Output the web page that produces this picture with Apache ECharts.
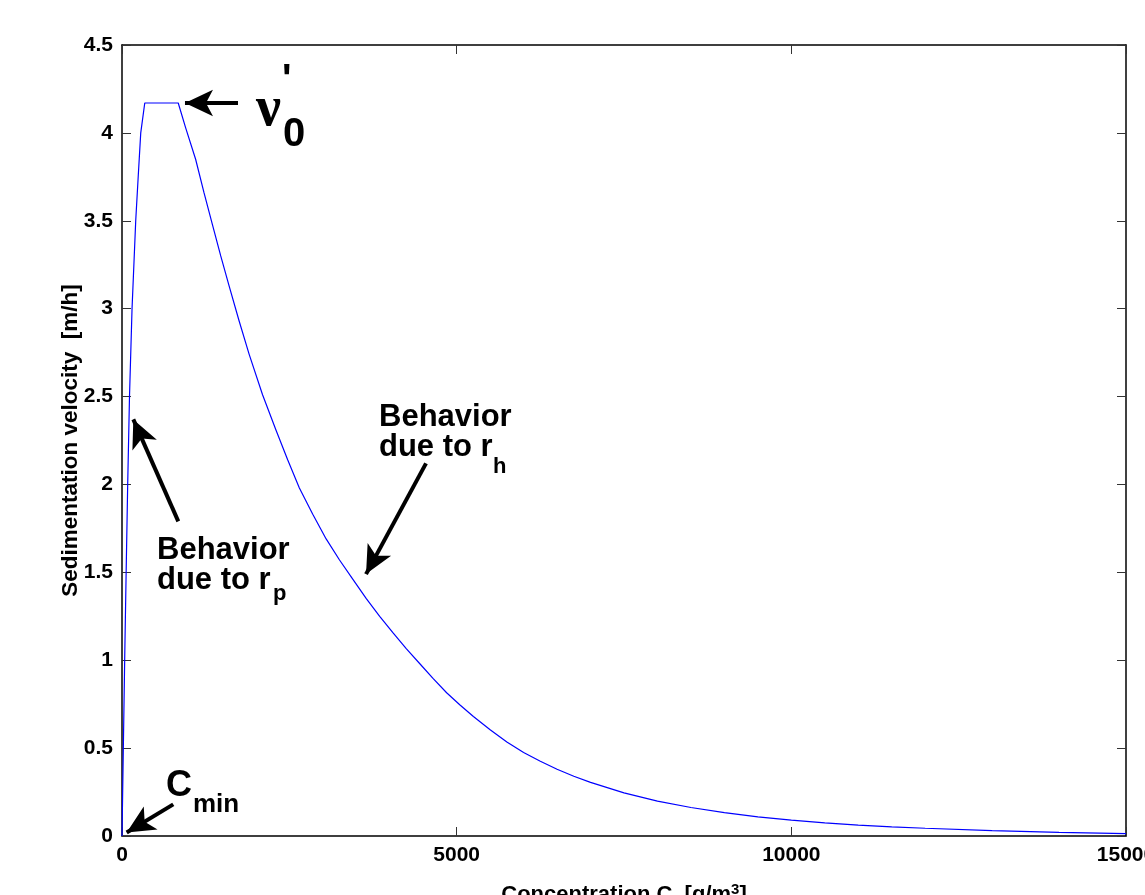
<!DOCTYPE html>
<html>
<head>
<meta charset="utf-8">
<script src="https://cdn.jsdelivr.net/npm/echarts@6/dist/echarts.min.js"></script>
<style>
  html, body { margin: 0; padding: 0; background: #fff; }
  #chart { width: 1145px; height: 895px; }
</style>
</head>
<body>
<div id="chart"></div>
<script>
// concentration C [g/m3]
const concentration = [
  0, 20, 40, 62, 85, 112, 150, 205, 245, 280, 340,
  840, 950, 1100, 1225, 1350, 1475, 1600, 1750, 1900, 2100,
  2300, 2475, 2650, 2850, 3050, 3250, 3450, 3650, 3850, 4050,
  4250, 4450, 4650, 4850, 5050, 5250, 5500, 5750, 6000, 6250, 6500,
  6750, 7000, 7500, 8000, 8500, 9000, 9500, 10000, 10500, 11000,
  11500, 12000, 13000, 14000, 15000
];
// sedimentation velocity [m/h]
const velocity = [
  0, 0.5, 1.0, 1.5, 2.0, 2.5, 3.0, 3.5, 3.77, 4.0, 4.17,
  4.17, 4.03, 3.85, 3.66, 3.48, 3.30, 3.13, 2.93, 2.74, 2.51,
  2.31, 2.14, 1.98, 1.83, 1.69, 1.57, 1.46, 1.35, 1.25, 1.155,
  1.065, 0.98, 0.895, 0.815, 0.745, 0.68, 0.605, 0.535, 0.475, 0.425, 0.38,
  0.34, 0.305, 0.245, 0.198, 0.162, 0.133, 0.109, 0.090, 0.075, 0.062,
  0.052, 0.044, 0.031, 0.021, 0.013
];

const xTicks = [0, 15000, 5000];   // min, max, interval
const yTicks = [0, 4.5, 0.5];

// arrows: [tailC, tailV, tipC, tipV]
const arrows = [
  [1733, 4.17, 941, 4.17],   // v0'
  [841, 1.79, 169, 2.37],    // r_p
  [4542, 2.12, 3646, 1.49],  // r_h
  [766, 0.18, 70, 0.02]      // C_min
];

const curve = concentration.map((c, i) => [c, velocity[i]]);

const FONT = '"Liberation Sans", Arial, Helvetica, sans-serif';

const chart = echarts.init(document.getElementById('chart'), null, { renderer: 'canvas' });

function axisBase(show) {
  return {
    axisLine: { show: true, onZero: false, lineStyle: { color: '#000', width: 1.5 } },
    axisTick: { show: true, inside: true, length: 9, lineStyle: { color: '#333', width: 1 } },
    axisLabel: show ? {
      show: true,
      color: '#000',
      fontFamily: FONT,
      fontWeight: 'bold',
      fontSize: 21,
      margin: 9,
      formatter: v => String(v)
    } : { show: false },
    splitLine: { show: false }
  };
}

const option = {
  animation: false,
  backgroundColor: '#fff',
  grid: { left: 122, right: 19, top: 45, bottom: 59, containLabel: false, outerBoundsMode: 'none' },
  xAxis: [
    Object.assign(axisBase(true), {
      type: 'value', position: 'bottom',
      min: xTicks[0], max: xTicks[1], interval: xTicks[2],
      name: 'Concentration C  [g/m{s|3}]',
      nameLocation: 'middle',
      nameGap: 46,
      nameMoveOverlap: false,
      nameTextStyle: {
        color: '#000', fontFamily: FONT, fontWeight: 'bold', fontSize: 22,
        rich: { s: { fontFamily: FONT, fontWeight: 'bold', fontSize: 15, verticalAlign: 'top', padding: [0, 0, 10, 0] } }
      }
    }),
    Object.assign(axisBase(false), {
      type: 'value', position: 'top',
      min: xTicks[0], max: xTicks[1], interval: xTicks[2]
    })
  ],
  yAxis: [
    Object.assign(axisBase(true), {
      type: 'value', position: 'left',
      min: yTicks[0], max: yTicks[1], interval: yTicks[2],
      name: 'Sedimentation velocity  [m/h]',
      nameLocation: 'middle',
      nameGap: 40,
      nameMoveOverlap: false,
      nameTextStyle: { color: '#000', fontFamily: FONT, fontWeight: 'bold', fontSize: 22.5 }
    }),
    Object.assign(axisBase(false), {
      type: 'value', position: 'right',
      min: yTicks[0], max: yTicks[1], interval: yTicks[2]
    })
  ],
  series: [{
    type: 'line',
    xAxisIndex: 0,
    yAxisIndex: 0,
    data: curve,
    showSymbol: false,
    lineStyle: { color: '#0000ff', width: 1.2 },
    markLine: {
      silent: true,
      animation: false,
      label: { show: false },
      symbolSize: [20, 28],
      lineStyle: { color: '#000', width: 4, type: 'solid' },
      data: arrows.map(a => [
        { coord: [a[0], a[1]], symbol: 'none' },
        { coord: [a[2], a[3]], symbol: 'arrow' }
      ])
    }
  }],
  graphic: [
    // v0'
    { type: 'text', left: 256, top: 83, style: { text: 'ν', font: 'bold 56px "Liberation Serif", serif', fill: '#000' } },
    { type: 'text', left: 282, top: 61, style: { text: "'", font: 'bold 40px ' + FONT, fill: '#000' } },
    { type: 'text', left: 283, top: 115, style: { text: '0', font: 'bold 40px ' + FONT, fill: '#000' } },
    // r_h
    { type: 'text', left: 379, top: 402, style: { text: 'Behavior', font: 'bold 31px ' + FONT, fill: '#000' } },
    { type: 'text', left: 379, top: 432, style: { text: 'due to r', font: 'bold 31px ' + FONT, fill: '#000' } },
    { type: 'text', left: 493, top: 456, style: { text: 'h', font: 'bold 22px ' + FONT, fill: '#000' } },
    // r_p
    { type: 'text', left: 157, top: 535, style: { text: 'Behavior', font: 'bold 31px ' + FONT, fill: '#000' } },
    { type: 'text', left: 157, top: 565, style: { text: 'due to r', font: 'bold 31px ' + FONT, fill: '#000' } },
    { type: 'text', left: 273, top: 583, style: { text: 'p', font: 'bold 22px ' + FONT, fill: '#000' } },
    // C_min
    { type: 'text', left: 166, top: 768, style: { text: 'C', font: 'bold 36px ' + FONT, fill: '#000' } },
    { type: 'text', left: 193, top: 792, style: { text: 'min', font: 'bold 26px ' + FONT, fill: '#000' } }
  ]
};

chart.setOption(option);
</script>
</body>
</html>
